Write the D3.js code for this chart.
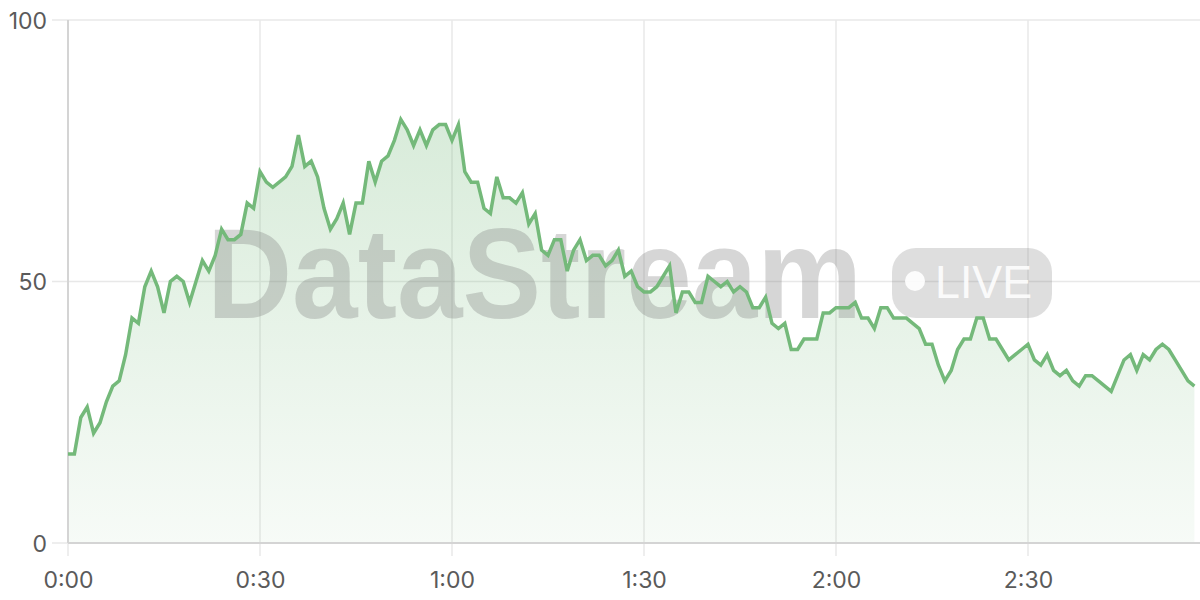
<!DOCTYPE html>
<html>
<head>
<meta charset="utf-8">
<script src="https://cdn.jsdelivr.net/npm/d3@7/dist/d3.min.js"></script>
<style>
  html, body { margin: 0; padding: 0; background: #fff; }
  svg { display: block; }
</style>
</head>
<body>
<svg id="chart" width="1200" height="600"></svg>
<script>
// Seconds elapsed (one sample per second)
const seconds = d3.range(0, 177);
// Series values
const values = [
  17, 17, 24, 26, 21, 23, 27, 30, 31, 36,
  43, 42, 49, 52, 49, 44, 50, 51, 50, 46,
  50, 54, 52, 55, 60, 58, 58, 59, 65, 64,
  71, 69, 68, 69, 70, 72, 78, 72, 73, 70,
  64, 60, 62, 65, 59, 65, 65, 73, 69, 73,
  74, 77, 81, 79, 76, 79, 76, 79, 80, 80,
  77, 80, 71, 69, 69, 64, 63, 70, 66, 66,
  65, 67, 61, 63, 56, 55, 58, 58, 52, 56,
  58, 54, 55, 55, 53, 54, 56, 51, 52, 49,
  48, 48, 49, 51, 53, 44, 48, 48, 46, 46,
  51, 50, 49, 50, 48, 49, 48, 45, 45, 47,
  42, 41, 42, 37, 37, 39, 39, 39, 44, 44,
  45, 45, 45, 46, 43, 43, 41, 45, 45, 43,
  43, 43, 42, 41, 38, 38, 34, 31, 33, 37,
  39, 39, 43, 43, 39, 39, 37, 35, 36, 37,
  38, 35, 34, 36, 33, 32, 33, 31, 30, 32,
  32, 31, 30, 29, 32, 35, 36, 33, 36, 35,
  37, 38, 37, 35, 33, 31, 30
];
const xTicks = [0, 30, 60, 90, 120, 150];
const yTicks = [0, 50, 100];
const watermark = "DataStream";
const badgeText = "LIVE";

const data = seconds.map((s, i) => ({ s, v: values[i] }));

const svg = d3.select("#chart");
const x = d3.scaleLinear().domain([0, 176]).range([68, 1194.4]);
const y = d3.scaleLinear().domain([0, 100]).range([543, 20]);

const fmt = s => Math.floor(s / 60) + ":" + String(s % 60).padStart(2, "0");

// gradient
const defs = svg.append("defs");
const grad = defs.append("linearGradient").attr("id", "fillGrad")
  .attr("x1", 0).attr("y1", 0).attr("x2", 0).attr("y2", 1);
grad.append("stop").attr("offset", "0%").attr("stop-color", "#74b97a").attr("stop-opacity", 0.28);
grad.append("stop").attr("offset", "100%").attr("stop-color", "#74b97a").attr("stop-opacity", 0.06);

// grid
const grid = svg.append("g");
grid.selectAll("line.h").data(yTicks).join("line")
  .attr("x1", 52).attr("x2", 1200)
  .attr("y1", d => y(d)).attr("y2", d => y(d))
  .attr("stroke", "#e8e8e8").attr("stroke-width", 1.5);
grid.selectAll("line.v").data(xTicks).join("line")
  .attr("x1", d => x(d)).attr("x2", d => x(d))
  .attr("y1", y(100)).attr("y2", 556)
  .attr("stroke", "#e8e8e8").attr("stroke-width", 1.5);

// area
const area = d3.area().x(d => x(d.s)).y0(y(0)).y1(d => y(d.v));
svg.append("path").datum(data).attr("d", area).attr("fill", "url(#fillGrad)");

// axis lines
svg.append("line").attr("x1", x(0)).attr("x2", x(0)).attr("y1", y(100)).attr("y2", y(0))
  .attr("stroke", "#d4d4d4").attr("stroke-width", 2);
svg.append("line").attr("x1", x(0)).attr("x2", 1200).attr("y1", y(0)).attr("y2", y(0))
  .attr("stroke", "#d4d4d4").attr("stroke-width", 2);

// watermark
const wm = svg.append("g");
wm.append("text")
  .attr("x", 207).attr("y", 318)
  .attr("textLength", 655).attr("lengthAdjust", "spacingAndGlyphs")
  .attr("font-family", "Liberation Sans, Arial, sans-serif")
  .attr("font-weight", "bold").attr("font-size", 128)
  .attr("fill", "#777").attr("fill-opacity", 0.3)
  .text(watermark);
wm.append("rect")
  .attr("x", 892).attr("y", 248).attr("width", 160).attr("height", 70)
  .attr("rx", 24).attr("fill", "#777").attr("fill-opacity", 0.24);
wm.append("circle").attr("cx", 915).attr("cy", 281).attr("r", 10).attr("fill", "#fff").attr("fill-opacity", 0.9);
wm.append("text")
  .attr("x", 935).attr("y", 298)
  .attr("textLength", 97).attr("lengthAdjust", "spacingAndGlyphs")
  .attr("font-family", "Liberation Sans, Arial, sans-serif")
  .attr("font-weight", 500).attr("font-size", 46)
  .attr("fill", "#fff").attr("fill-opacity", 0.9)
  .text(badgeText);

// line
const line = d3.line().x(d => x(d.s)).y(d => y(d.v));
svg.append("path").datum(data).attr("d", line)
  .attr("fill", "none").attr("stroke", "#74b97a").attr("stroke-width", 3.5)
  .attr("stroke-linejoin", "miter");

// axis labels
const yAxis = d3.axisLeft(y).tickValues(yTicks).tickSize(0).tickPadding(0);
const gy = svg.append("g").attr("transform", "translate(47,0)").call(yAxis);
gy.select(".domain").remove();
gy.selectAll("text").attr("font-family", "Inter, Liberation Sans, sans-serif")
  .attr("font-size", 23).attr("fill", "#5a5a5a").attr("dy", "0.35em");

const xAxis = d3.axisBottom(x).tickValues(xTicks).tickFormat(fmt).tickSize(0).tickPadding(0);
const gx = svg.append("g").attr("transform", "translate(0,580)").call(xAxis);
gx.select(".domain").remove();
gx.selectAll("text").attr("font-family", "Inter, Liberation Sans, sans-serif")
  .attr("font-size", 23).attr("fill", "#5a5a5a").attr("dy", "0.35em");
</script>
</body>
</html>
